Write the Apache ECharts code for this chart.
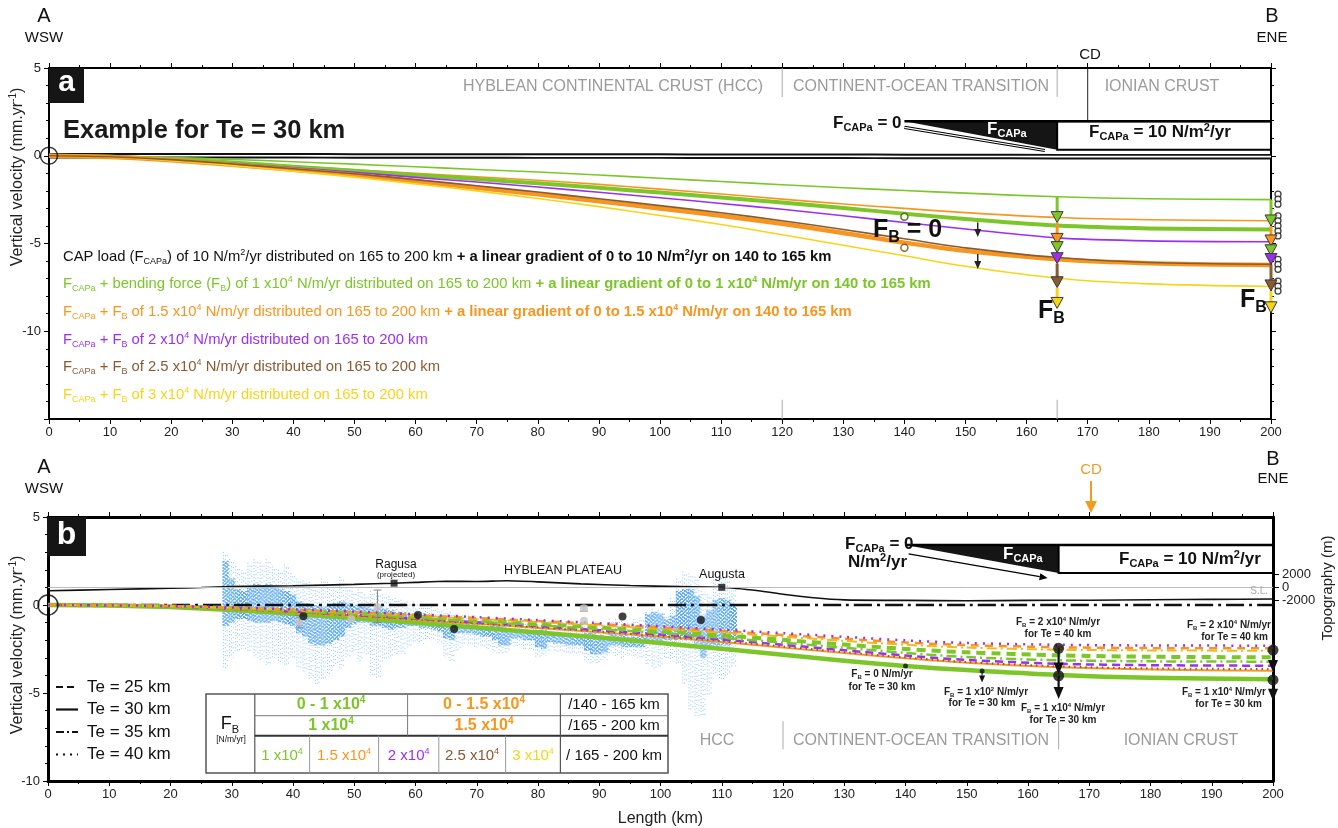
<!DOCTYPE html>
<html><head><meta charset="utf-8">
<script src="https://cdn.jsdelivr.net/npm/echarts@6/dist/echarts.min.js"></script>
<style>html,body{margin:0;padding:0;background:#fff}#c{width:1338px;height:828px}</style>
</head><body><div id="c"></div>
<script>
// ---------------- DATA ----------------
const xKm = [0,10,20,30,40,50,60,70,80,90,100,110,120,130,140,150,165,180,200];
// Panel a (Te = 30 km)
const aCapOnly     = [0,0,0,0,0,-0.01,-0.01,-0.01,-0.02,-0.02,-0.02,-0.03,-0.03,-0.03,-0.04,-0.04,-0.05,-0.05,-0.05];
const aGreen1e4    = [0,-0.03,-0.1,-0.21,-0.34,-0.48,-0.63,-0.78,-0.93,-1.1,-1.28,-1.47,-1.65,-1.82,-1.98,-2.13,-2.34,-2.45,-2.5];
const aOrange15e4  = [0,-0.05,-0.17,-0.36,-0.58,-0.8,-1.0,-1.2,-1.4,-1.63,-1.9,-2.18,-2.47,-2.75,-3.0,-3.24,-3.52,-3.65,-3.7];
const aGreenGrad   = [0,-0.05,-0.19,-0.39,-0.62,-0.86,-1.1,-1.33,-1.57,-1.83,-2.1,-2.38,-2.67,-2.98,-3.3,-3.6,-3.98,-4.14,-4.2];
const aPurple2e4   = [0,-0.06,-0.21,-0.43,-0.68,-0.95,-1.23,-1.5,-1.78,-2.08,-2.39,-2.72,-3.05,-3.42,-3.8,-4.17,-4.68,-4.85,-4.9];
const aOrangeGrad  = [0,-0.07,-0.25,-0.52,-0.8,-1.1,-1.45,-1.82,-2.2,-2.6,-3.0,-3.42,-3.88,-4.4,-4.95,-5.42,-5.9,-6.12,-6.22];
const aBrown25e4   = [0,-0.06,-0.22,-0.47,-0.74,-1.03,-1.36,-1.71,-2.07,-2.45,-2.84,-3.25,-3.7,-4.2,-4.73,-5.25,-5.8,-6.08,-6.18];
const aYellow3e4   = [0,-0.08,-0.28,-0.56,-0.88,-1.22,-1.6,-2.0,-2.44,-2.9,-3.4,-3.92,-4.5,-5.1,-5.7,-6.3,-6.98,-7.3,-7.45];
const aFb0Green = [[140,-3.47]];
const aFb0Orange = [[140,-5.24]];
const aSmallArrows = [[152,-3.8,-4.63],[152,-5.6,-6.46]];
// force arrows: [km, from, to, model]
const aForceArrows = [
  [165,-2.34,-3.81,'g'],[165,-3.81,-5.05,'o'],[165,-5.05,-5.52,'g'],[165,-5.52,-6.15,'p'],[165,-6.15,-7.52,'b'],[165,-7.52,-8.7,'y'],
  [200,-2.5,-4.0,'g'],[200,-4.0,-5.14,'o'],[200,-5.14,-5.7,'g'],[200,-5.7,-6.2,'p'],[200,-6.2,-7.7,'b'],[200,-7.7,-8.95,'y']
];
const aEndCircles = [-2.19,-2.47,-2.76,-3.43,-3.71,-4.0,-4.29,-4.57,-5.9,-6.19,-6.47,-7.14,-7.43,-7.71];

// Panel b
const bCapOnly  = [0,0,0,0,0,0,0,0,0,0,0,0,0,0,0,0,0,0,0];
const bGreen30  = [0,-0.03,-0.12,-0.28,-0.5,-0.75,-1.01,-1.28,-1.56,-1.85,-2.16,-2.49,-2.83,-3.17,-3.47,-3.7,-3.98,-4.14,-4.22];
const bOrange30 = [0,-0.03,-0.1,-0.24,-0.42,-0.63,-0.85,-1.07,-1.3,-1.55,-1.81,-2.1,-2.41,-2.73,-3.03,-3.28,-3.53,-3.67,-3.73];
const bBrown40  = [0,-0.03,-0.1,-0.23,-0.4,-0.6,-0.82,-1.04,-1.27,-1.51,-1.77,-2.05,-2.36,-2.68,-2.98,-3.24,-3.49,-3.6,-3.64];
const bPurple25 = [0,-0.03,-0.09,-0.21,-0.37,-0.56,-0.77,-0.98,-1.2,-1.43,-1.68,-1.96,-2.26,-2.57,-2.87,-3.12,-3.34,-3.42,-3.45];
const bGreen35  = [0,-0.02,-0.09,-0.2,-0.35,-0.53,-0.73,-0.94,-1.15,-1.37,-1.6,-1.86,-2.14,-2.43,-2.72,-2.96,-3.14,-3.2,-3.22];
const bGreen25  = [0,-0.02,-0.08,-0.18,-0.32,-0.48,-0.67,-0.87,-1.07,-1.27,-1.48,-1.72,-1.98,-2.25,-2.5,-2.69,-2.86,-2.94,-2.97];
const bYellow35 = [0,-0.02,-0.07,-0.16,-0.29,-0.44,-0.61,-0.79,-0.97,-1.16,-1.36,-1.57,-1.8,-2.04,-2.26,-2.42,-2.54,-2.58,-2.6];
const bOrange25 = [0,-0.02,-0.07,-0.15,-0.27,-0.41,-0.57,-0.74,-0.91,-1.09,-1.28,-1.48,-1.7,-1.92,-2.13,-2.28,-2.4,-2.45,-2.46];
const bPurple40 = [0,-0.02,-0.06,-0.14,-0.25,-0.38,-0.53,-0.69,-0.86,-1.03,-1.21,-1.4,-1.6,-1.81,-2.01,-2.16,-2.26,-2.3,-2.31];
// topography (m)
const topoKm = [0,10,20,25,30,40,50,56.5,60,65,70,75,80,87,95,103,110,116,120,125,130,140,150,160,170,180,190,200];
const topoM  = [-510,-320,-110,0,160,270,480,670,800,960,930,1040,880,560,320,130,30,-510,-1040,-1600,-1920,-2000,-2050,-2000,-1970,-1890,-1840,-1790];
const towns = [[56.5,670,'Ragusa'],[110,30,'Augusta']];
// InSAR velocity cloud: [km, sparseLow, sparseHigh, denseLow, denseHigh]
const insar = [
[29,-3.6,3.0,-1.2,2.5],[30,-3.0,2.6,-1.0,1.5],[31,-2.6,2.2,-0.8,0.9],[32,-2.5,2.0,-0.8,0.8],[33,-2.6,2.4,-0.9,1.0],
[34,-3.0,2.6,-1.0,1.2],[35,-3.2,2.4,-1.0,1.1],[36,-3.4,2.6,-1.0,1.2],[37,-3.0,2.2,-0.9,1.0],[38,-3.3,2.0,-1.0,0.9],
[39,-3.4,2.3,-1.1,0.8],[40,-3.0,1.8,-1.2,0.6],[41,-3.6,1.5,-1.6,0.2],[42,-3.8,1.4,-1.8,0.1],[43,-4.2,1.3,-2.2,0.0],
[44,-4.5,1.2,-2.3,0.0],[45,-4.2,1.5,-2.3,-0.1],[46,-4.0,1.3,-2.2,0.0],[47,-3.5,1.2,-2.0,0.1],[48,-3.6,1.6,-1.8,0.2],
[49,-3.0,1.0,-1.3,0.1],[50,-2.8,0.8,-1.1,0.0],[51,-3.2,0.9,-1.0,0.0],[52,-2.8,0.6,-1.0,-0.1],[53,-4.0,0.8,-1.2,-0.2],
[54,-4.2,0.7,-1.2,-0.1],[55,-3.2,0.6,-1.3,-0.2],[56,-3.0,0.5,-1.4,-0.3],[57,-2.8,0.4,-1.3,-0.4],[58,-2.8,0.3,-1.3,-0.4],
[59,-2.4,0.2,-1.2,-0.5],[60,-2.2,0.2,-1.2,-0.6],[61,-2.2,0.0,-1.3,-0.6],[62,-2.0,0.0,-1.3,-0.7],[63,-2.0,-0.1,-1.4,-0.8],
[64,-2.2,-0.2,-1.5,-0.8],[65,-3.0,-0.3,-1.9,-0.9],[66,-3.3,-0.4,-2.0,-0.9],[67,-2.6,-0.5,-1.6,-1.0],[68,-2.2,-0.6,-1.6,-1.1],
[69,-2.3,-0.6,-1.6,-1.1],[70,-2.4,-0.6,-1.7,-1.1],[71,-2.4,-0.7,-1.8,-1.2],[72,-2.5,-0.7,-1.8,-1.2],[73,-2.7,-0.8,-2.0,-1.2],
[74,-2.8,-0.8,-2.3,-1.2],[75,-2.7,-0.9,-2.3,-1.3],[76,-2.3,-0.8,-1.9,-1.4],[77,-2.4,-0.9,-1.9,-1.5],[78,-2.5,-0.9,-2.0,-1.5],
[79,-2.6,-0.9,-2.0,-1.5],[80,-3.0,-1.0,-2.4,-1.4],[81,-2.9,-1.0,-2.5,-1.4],[82,-2.6,-1.0,-2.1,-1.6],[83,-2.7,-1.0,-2.2,-1.6],
[84,-2.7,-1.0,-2.2,-1.7],[85,-2.8,-1.1,-2.3,-1.7],[86,-2.8,-1.1,-2.3,-1.7],[87,-2.8,-1.1,-2.3,-1.8],[88,-3.2,-1.2,-2.6,-1.6],
[89,-3.3,-1.2,-2.8,-1.6],[90,-3.3,-1.2,-2.8,-1.7],[91,-3.1,-1.2,-2.7,-1.8],[92,-2.8,-0.8,-2.3,-1.6],[93,-2.9,-0.8,-2.3,-1.7],
[94,-3.0,-0.9,-2.4,-1.7],[95,-2.9,-1.0,-2.4,-1.8],[96,-3.0,-0.8,-2.4,-1.8],[97,-3.1,-0.7,-2.4,-1.7],[98,-3.4,-0.4,-2.2,-0.5],
[99,-3.6,-0.2,-2.2,-0.4],[100,-3.5,-0.3,-2.1,-0.5],[101,-3.0,-0.5,-2.0,-0.8],[102,-3.2,0.4,-2.0,-0.6],[103,-3.4,1.5,-2.0,0.8],
[104,-4.5,1.9,-2.0,0.9],[105,-6.0,1.8,-2.0,0.9],[106,-6.3,1.6,-2.2,0.5],[107,-6.3,0.8,-3.0,-0.6],[108,-5.2,0.6,-2.5,-0.3],
[109,-4.0,1.6,-2.3,0.3],[110,-4.2,1.7,-2.3,0.4],[111,-4.0,1.5,-2.3,0.3],[112,-3.5,1.0,-2.0,0.0]
];
const gpsBlack = [[41.7,-0.64],[60.4,-0.57],[66.3,-1.36],[93.8,-0.66],[106.6,-0.85]];
const gpsGrey  = [[41,-0.95],[49.5,-0.8],[53.8,-0.13],[87.5,-0.19],[87.5,-0.89]];
const gpsErr   = [[41,-1.3,-0.6],[53.8,-1.0,0.85],[87.5,-0.35,-0.05]];
const bArrows  = [[165,-2.46,-3.95],[165,-4.02,-5.34],[200,-2.56,-3.8],[200,-4.26,-5.44],[152.5,-3.75,-4.4]];
const bDots    = [[165,-2.46],[165,-4.02],[200,-2.56],[200,-4.26]];
const bSmallDots = [[140,-3.47],[152.5,-3.75]];

// ---------------- STYLE ----------------
const FONT = "'Liberation Sans', Arial, Helvetica, sans-serif";
const COL = {g:'#7cc62a', o:'#f7961e', p:'#9d2ff0', b:'#8a5a32', y:'#f8d418', k:'#111', blue:'#3f9bec', grey:'#9b9b9b'};

function richSet(size, color, weight) {
  const base = {fontFamily: FONT, fill: color, fontSize: size, fontWeight: weight || 'normal'};
  const sm = Math.round(size * 0.62);
  return {
    s:  Object.assign({}, base, {fontSize: sm, padding: [Math.round(size*0.6),0,0,0]}),
    p:  Object.assign({}, base, {fontSize: sm, padding: [0,0,Math.round(size*0.55),0]}),
    b:  Object.assign({}, base, {fontWeight: 'bold'}),
    bs: Object.assign({}, base, {fontWeight: 'bold', fontSize: sm, padding: [Math.round(size*0.6),0,0,0]}),
    bp: Object.assign({}, base, {fontWeight: 'bold', fontSize: sm, padding: [0,0,Math.round(size*0.55),0]})
  };
}
function txt(x, y, text, size, color, opt) {
  opt = opt || {};
  return {type:'text', x: x, y: y, rotation: opt.rot || 0, z: 100, silent: true,
    style: {text: text, fill: color, fontSize: size, fontFamily: FONT, fontWeight: opt.weight || 'normal',
      align: opt.align || 'left', verticalAlign: opt.valign || 'middle', rich: richSet(size, color, opt.weight)}};
}
function gline(x1,y1,x2,y2,color,w,dash) {
  return {type:'line', z: 90, silent:true, shape:{x1,y1,x2,y2}, style:{stroke:color, lineWidth:w, lineDash: dash || null}};
}
function grect(x,y,w,h,fill,stroke,lw) {
  return {type:'rect', z: 89, silent:true, shape:{x,y,width:w,height:h}, style:{fill:fill, stroke:stroke||null, lineWidth:lw||0}};
}

function pairs(data) { return xKm.map((x,i)=>[x, data[i]]); }
function modelLine(name, data, panel, color, width, type, z) {
  return {type:'line', name, data: pairs(data), xAxisIndex: panel*2, yAxisIndex: panel*2,
    symbol:'none', showSymbol:false, smooth:0.3, silent:true, z: z || 4,
    lineStyle:{color, width, type: type || 'solid', cap:'butt', join:'round'}};
}

function axisX(grid, pos, showLabel, lw, name) {
  return {gridIndex: grid, type:'value', min:0, max:200, interval:10, position: pos,
    name: name || '', nameLocation:'middle', nameGap: 30,
    nameTextStyle:{fontSize:16, color:'#222', fontFamily: FONT},
    axisLine:{onZero:false, lineStyle:{color:'#000', width: lw}},
    axisTick:{show:true, length:5, lineStyle:{color:'#000', width:1}},
    minorTick:{show:true, splitNumber:2, length:3, lineStyle:{color:'#000', width:1}},
    axisLabel:{show: showLabel, fontSize:13, color:'#222', fontFamily: FONT, margin:7},
    splitLine:{show:false}};
}
function axisY(grid, pos, min, max, showLabel, lw) {
  return {gridIndex: grid, type:'value', min, max, interval:5, position: pos,
    axisLine:{onZero:false, lineStyle:{color:'#000', width: lw}},
    axisTick:{show:true, length:5, lineStyle:{color:'#000', width:1}},
    minorTick:{show:true, splitNumber:5, length:3, lineStyle:{color:'#000', width:1}},
    axisLabel:{show: showLabel, fontSize:13, color:'#222', fontFamily: FONT, margin:8,
      formatter: v => (v === min && min === -15) ? '' : String(v)},
    splitLine:{show:false}};
}

// ---------------- CUSTOM RENDERERS ----------------
function arrowShape(p0, p1, color, lw, hw, hh, outline) {
  return [
    {type:'line', shape:{x1:p0[0], y1:p0[1], x2:p1[0], y2:p1[1]-hh+1}, style:{stroke:color, lineWidth:lw}},
    {type:'polygon', shape:{points:[[p1[0]-hw,p1[1]-hh],[p1[0]+hw,p1[1]-hh],[p1[0],p1[1]]]},
      style:{fill:color, stroke: outline || color, lineWidth: outline ? 1 : 0}}
  ];
}
const forceArrowSeries = {
  type:'custom', xAxisIndex:0, yAxisIndex:0, data: aForceArrows.map(d=>[d[0],d[1],d[2]]), z: 8, silent:true, clip:false,
  renderItem: function(params, api) {
    const d = aForceArrows[params.dataIndex];
    const p0 = api.coord([d[0], d[1]]), p1 = api.coord([d[0], d[2]]);
    return {type:'group', children: arrowShape(p0, p1, COL[d[3]], 3, 6, 11, '#3a3a3a')};
  }
};
const smallArrowSeries = {
  type:'custom', xAxisIndex:0, yAxisIndex:0, data: aSmallArrows, z: 8, silent:true,
  renderItem: function(params, api) {
    const p0 = api.coord([api.value(0), api.value(1)]), p1 = api.coord([api.value(0), api.value(2)]);
    return {type:'group', children: arrowShape(p0, p1, '#222', 1.5, 3.5, 8)};
  }
};
const loadASeries = {
  type:'custom', xAxisIndex:0, yAxisIndex:0, data:[[0,0]], z: 9, silent:true, clip:false,
  renderItem: function(params, api) {
    const c = (x,y)=>api.coord([x,y]);
    const top = 1.96, bot = 0.34;
    const a0 = c(140,1.62), a1 = c(163,0.3);
    return {type:'group', children:[
      {type:'line', shape:{x1:c(120,5)[0], y1:c(120,5)[1], x2:c(120,3.35)[0], y2:c(120,3.35)[1]}, style:{stroke:'#aaa', lineWidth:1}},
      {type:'line', shape:{x1:c(165,5)[0], y1:c(165,5)[1], x2:c(165,3.35)[0], y2:c(165,3.35)[1]}, style:{stroke:'#aaa', lineWidth:1}},
      {type:'line', shape:{x1:c(120,-13.9)[0], y1:c(120,-13.9)[1], x2:c(120,-15)[0], y2:c(120,-15)[1]}, style:{stroke:'#aaa', lineWidth:1}},
      {type:'line', shape:{x1:c(165,-13.9)[0], y1:c(165,-13.9)[1], x2:c(165,-15)[0], y2:c(165,-15)[1]}, style:{stroke:'#aaa', lineWidth:1}},
      {type:'line', shape:{x1:c(170,5)[0], y1:c(170,5)[1], x2:c(170,top)[0], y2:c(170,top)[1]}, style:{stroke:'#222', lineWidth:1}},
      {type:'polygon', shape:{points:[c(140,top), c(165,top), c(165,bot)]}, style:{fill:'#151515'}},
      {type:'rect', shape:{x:c(165,top)[0], y:c(165,top)[1], width:c(200,bot)[0]-c(165,top)[0], height:c(200,bot)[1]-c(165,top)[1]},
        style:{fill:'#fff', stroke:'#000', lineWidth:2}},
      {type:'line', shape:{x1:c(140,top)[0], y1:c(140,top)[1], x2:c(200,top)[0], y2:c(200,top)[1]}, style:{stroke:'#000', lineWidth:2.5}},
      {type:'line', shape:{x1:a0[0], y1:a0[1], x2:a1[0], y2:a1[1]}, style:{stroke:'#000', lineWidth:3.2}},
      {type:'line', shape:{x1:a0[0], y1:a0[1], x2:a1[0], y2:a1[1]}, style:{stroke:'#fff', lineWidth:1.2}}
    ]};
  }
};
const loadBSeries = {
  type:'custom', xAxisIndex:2, yAxisIndex:2, data:[[0,0]], z: 9, silent:true, clip:false,
  renderItem: function(params, api) {
    const c = (x,y)=>api.coord([x,y]);
    const top = 3.41, bot = 1.82;
    const a0 = c(140.5,2.9), a1 = c(163.2,1.53);
    const ang = Math.atan2(a1[1]-a0[1], a1[0]-a0[0]);
    const hl = 8, hw = 3.5;
    const hx = a1[0]-hl*Math.cos(ang), hy = a1[1]-hl*Math.sin(ang);
    return {type:'group', children:[
      {type:'line', shape:{x1:c(120,-6.6)[0], y1:c(120,-6.6)[1], x2:c(120,-8.2)[0], y2:c(120,-8.2)[1]}, style:{stroke:'#aaa', lineWidth:1}},
      {type:'line', shape:{x1:c(165,-6.6)[0], y1:c(165,-6.6)[1], x2:c(165,-8.2)[0], y2:c(165,-8.2)[1]}, style:{stroke:'#aaa', lineWidth:1}},
      {type:'polygon', shape:{points:[c(140,top), c(165,top), c(165,bot)]}, style:{fill:'#151515'}},
      {type:'rect', shape:{x:c(165,top)[0], y:c(165,top)[1], width:c(200,bot)[0]-c(165,top)[0], height:c(200,bot)[1]-c(165,top)[1]},
        style:{fill:'#fff', stroke:'#000', lineWidth:2}},
      {type:'line', shape:{x1:c(140,top)[0], y1:c(140,top)[1], x2:c(200,top)[0], y2:c(200,top)[1]}, style:{stroke:'#000', lineWidth:2.5}},
      {type:'line', shape:{x1:a0[0], y1:a0[1], x2:hx, y2:hy}, style:{stroke:'#000', lineWidth:1.2}},
      {type:'polygon', shape:{points:[[a1[0],a1[1]],[hx-hw*Math.sin(ang),hy+hw*Math.cos(ang)],[hx+hw*Math.sin(ang),hy-hw*Math.cos(ang)]]}, style:{fill:'#000'}}
    ]};
  }
};
const insarSeries = {
  type:'custom', xAxisIndex:2, yAxisIndex:2, data: insar, z: 2, silent:true,
  renderItem: function(params, api) {
    const x = api.value(0);
    const children = [];
    [-0.36, -0.05, 0.27].forEach(function(dx, k){
      const p0 = api.coord([x+dx, api.value(2)]), p1 = api.coord([x+dx, api.value(1)]);
      children.push({type:'line', shape:{x1:p0[0], y1:p0[1], x2:p1[0], y2:p1[1]},
        style:{stroke:'rgba(66,156,240,0.6)', lineWidth:1, lineDash:[1, 2 + k], lineDashOffset: k}});
    });
    [-0.42, -0.25, -0.08, 0.09, 0.26, 0.42].forEach(function(dx, k){
      const p0 = api.coord([x+dx, api.value(4)]), p1 = api.coord([x+dx, api.value(3)]);
      children.push({type:'line', shape:{x1:p0[0], y1:p0[1], x2:p1[0], y2:p1[1]},
        style:{stroke:'rgba(58,150,240,0.85)', lineWidth:1, lineDash:[2, 1 + (k % 2)], lineDashOffset: k}});
    });
    return {type:'group', children};
  }
};
const gpsErrSeries = {
  type:'custom', xAxisIndex:2, yAxisIndex:2, data: gpsErr, z: 6, silent:true,
  renderItem: function(params, api) {
    const p0 = api.coord([api.value(0), api.value(1)]), p1 = api.coord([api.value(0), api.value(2)]);
    return {type:'group', children:[
      {type:'line', shape:{x1:p0[0], y1:p0[1], x2:p1[0], y2:p1[1]}, style:{stroke:'#888', lineWidth:1}},
      {type:'line', shape:{x1:p0[0]-4, y1:p0[1], x2:p0[0]+4, y2:p0[1]}, style:{stroke:'#888', lineWidth:1}},
      {type:'line', shape:{x1:p1[0]-4, y1:p1[1], x2:p1[0]+4, y2:p1[1]}, style:{stroke:'#888', lineWidth:1}}
    ]};
  }
};
const bArrowSeries = {
  type:'custom', xAxisIndex:2, yAxisIndex:2, data: bArrows, z: 8, silent:true, clip:false,
  renderItem: function(params, api) {
    const p0 = api.coord([api.value(0), api.value(1)]), p1 = api.coord([api.value(0), api.value(2)]);
    const small = params.dataIndex === 4;
    return {type:'group', children: arrowShape(p0, p1, '#111', small ? 1 : 2.2, small ? 3 : 5, small ? 7 : 12)};
  }
};

// ---------------- GRAPHICS (texts / legend / table) ----------------
const g = [];
g.push(txt(44,16,'A',20,'#111',{align:'center'}), txt(44,38,'WSW',15,'#111',{align:'center'}));
g.push(txt(1272,16,'B',20,'#111',{align:'center'}), txt(1272,38,'ENE',15,'#111',{align:'center'}));
g.push(txt(1090,55,'CD',15,'#111',{align:'center'}));
g.push(txt(44,467,'A',20,'#111',{align:'center'}), txt(44,489,'WSW',15,'#111',{align:'center'}));
g.push(txt(1273,459,'B',20,'#111',{align:'center'}), txt(1273,479,'ENE',15,'#111',{align:'center'}));
g.push(txt(1091,470,'CD',15,'#f39c1e',{align:'center'}));
g.push(gline(1091,481,1091,509,'#f39c1e',2));
g.push({type:'polygon', z:90, silent:true, shape:{points:[[1085,501],[1097,501],[1091,513]]}, style:{fill:'#f39c1e'}});
g.push(grect(49,68,35,35,'#151515'), txt(66.5,83,'a',30,'#fff',{align:'center',weight:'bold'}));
g.push(grect(47,517,39,39,'#151515'), txt(66.5,535,'b',32,'#fff',{align:'center',weight:'bold'}));
g.push(txt(18,177,'Vertical velocity (mm.yr{p|-1})',16,'#222',{align:'center',rot:Math.PI/2}));
g.push(txt(18,645,'Vertical velocity (mm.yr{p|-1})',16,'#222',{align:'center',rot:Math.PI/2}));
g.push(txt(1328,588,'Topography (m)',15,'#222',{align:'center',rot:Math.PI/2}));
g.push(txt(63,131,'Example for Te = 30 km',25.5,'#1a1a1a',{weight:'bold'}));
g.push(txt(613,87,'HYBLEAN CONTINENTAL CRUST (HCC)',16,COL.grey,{align:'center'}));
g.push(txt(921,87,'CONTINENT-OCEAN TRANSITION',16,COL.grey,{align:'center'}));
g.push(txt(1162,87,'IONIAN CRUST',16,COL.grey,{align:'center'}));
g.push(txt(833,123,'F{bs|CAPa} = 0',17,'#111',{weight:'bold'}));
g.push(txt(987,129,'F{bs|CAPa}',17,'#fff',{weight:'bold'}));
g.push(txt(1089,132,'F{bs|CAPa} = 10 N/m{bp|2}/yr',17,'#111',{weight:'bold'}));
g.push(txt(873,230,'F{bs|B} = 0',25,'#111',{weight:'bold'}));
g.push(txt(1038,311,'F{bs|B}',25,'#111',{weight:'bold'}));
g.push(txt(1240,300,'F{bs|B}',25,'#111',{weight:'bold'}));
const LS = 14.8;
g.push(txt(63,257,'CAP load (F{s|CAPa}) of 10 N/m{p|2}/yr distributed on 165 to 200 km {b|+ a linear gradient of 0 to 10 N/m}{bp|2}{b|/yr on 140 to 165 km}',LS,'#111'));
g.push(txt(63,284,'F{s|CAPa} + bending force (F{s|B}) of 1 x10{p|4} N/m/yr distributed on 165 to 200 km {b|+ a linear gradient of 0 to 1 x10}{bp|4}{b| N/m/yr on 140 to 165 km}',LS,COL.g));
g.push(txt(63,312,'F{s|CAPa} + F{s|B} of 1.5 x10{p|4} N/m/yr distributed on 165 to 200 km {b|+ a linear gradient of 0 to 1.5 x10}{bp|4}{b| N/m/yr on 140 to 165 km}',LS,COL.o));
g.push(txt(63,340,'F{s|CAPa} + F{s|B} of 2 x10{p|4} N/m/yr distributed on 165 to 200 km',LS,COL.p));
g.push(txt(63,367,'F{s|CAPa} + F{s|B} of 2.5 x10{p|4} N/m/yr distributed on 165 to 200 km',LS,COL.b));
g.push(txt(63,395,'F{s|CAPa} + F{s|B} of 3 x10{p|4} N/m/yr distributed on 165 to 200 km',LS,COL.y));
g.push(txt(396,565,'Ragusa',12,'#111',{align:'center'}), txt(396,575,'(projected)',8,'#111',{align:'center'}));
g.push(txt(563,571,'HYBLEAN PLATEAU',12.5,'#111',{align:'center'}));
g.push(txt(722,575,'Augusta',12.5,'#111',{align:'center'}));
g.push(txt(1268,591,'S.L.',10,'#aaa',{align:'right'}));
g.push(txt(845,544,'F{bs|CAPa} = 0',17,'#111',{weight:'bold'}));
g.push(txt(848,562,'N/m{bp|2}/yr',17,'#111',{weight:'bold'}));
g.push(txt(1003,554,'F{bs|CAPa}',17,'#fff',{weight:'bold'}));
g.push(txt(1119,559,'F{bs|CAPa} = 10 N/m{bp|2}/yr',17,'#111',{weight:'bold'}));
const AS = 10;
g.push(txt(1058,622,'F{bs|B} = 2 x10{bp|4} N/m/yr',AS,'#222',{align:'center',weight:'bold'}), txt(1058,634,'for Te = 40 km',AS,'#222',{align:'center',weight:'bold'}));
g.push(txt(1271,625,'F{bs|B} = 2 x10{bp|4} N/m/yr',AS,'#222',{align:'right',weight:'bold'}), txt(1268,637,'for Te = 40 km',AS,'#222',{align:'right',weight:'bold'}));
g.push(txt(1063,708,'F{bs|B} = 1 x10{bp|4} N/m/yr',AS,'#222',{align:'center',weight:'bold'}), txt(1063,720,'for Te = 30 km',AS,'#222',{align:'center',weight:'bold'}));
g.push(txt(1266,692,'F{bs|B} = 1 x10{bp|4} N/m/yr',AS,'#222',{align:'right',weight:'bold'}), txt(1262,704,'for Te = 30 km',AS,'#222',{align:'right',weight:'bold'}));
g.push(txt(882,674,'F{bs|B} = 0 N/m/yr',AS,'#222',{align:'center',weight:'bold'}), txt(882,687,'for Te = 30 km',AS,'#222',{align:'center',weight:'bold'}));
g.push(txt(986,692,'F{bs|B} = 1 x10{bp|2} N/m/yr',AS,'#222',{align:'center',weight:'bold'}), txt(982,703,'for Te = 30 km',AS,'#222',{align:'center',weight:'bold'}));
g.push(txt(717,741,'HCC',16,COL.grey,{align:'center'}));
g.push(txt(921,741,'CONTINENT-OCEAN TRANSITION',16,COL.grey,{align:'center'}));
g.push(txt(1181,741,'IONIAN CRUST',16,COL.grey,{align:'center'}));
const teY = [687,709.5,732,754.5];
g.push(gline(56,teY[0],78,teY[0],'#111',2.2,[7,4]));
g.push(gline(56,teY[1],78,teY[1],'#111',2.2));
g.push(gline(56,teY[2],78,teY[2],'#111',2.2,[8,3,2,3]));
g.push(gline(56,teY[3],78,teY[3],'#111',2.2,[2,5]));
['Te = 25 km','Te = 30 km','Te = 35 km','Te = 40 km'].forEach((t,i)=>g.push(txt(87,teY[i],t,17,'#111')));
g.push(grect(206,694,462,79,'#fff','#555',1.5));
g.push(gline(254.8,694,254.8,773,'#555',1.2));
g.push(gline(254.8,715.7,668,715.7,'#777',1));
g.push(gline(254.8,735.7,668,735.7,'#333',2));
g.push(gline(407.6,694,407.6,735.7,'#777',1));
g.push(gline(560.4,694,560.4,773,'#555',1.2));
[309.6,378.6,438.8,505.6].forEach(x=>g.push(gline(x,735.7,x,773,'#999',1)));
g.push(txt(230,724,'F{s|B}',18,'#111',{align:'center'}), txt(231,740,'[N/m/yr]',8.5,'#111',{align:'center'}));
g.push(txt(331,705,'0 - 1 x10{bp|4}',16,COL.g,{align:'center',weight:'bold'}));
g.push(txt(484,705,'0 - 1.5 x10{bp|4}',16,COL.o,{align:'center',weight:'bold'}));
g.push(txt(614,705,'/140 - 165 km',15,'#111',{align:'center'}));
g.push(txt(331,726,'1 x10{bp|4}',16,COL.g,{align:'center',weight:'bold'}));
g.push(txt(484,726,'1.5 x10{bp|4}',16,COL.o,{align:'center',weight:'bold'}));
g.push(txt(614,726,'/165 - 200 km',15,'#111',{align:'center'}));
g.push(txt(282,756,'1 x10{p|4}',15,COL.g,{align:'center'}));
g.push(txt(344,756,'1.5 x10{p|4}',15,COL.o,{align:'center'}));
g.push(txt(408.7,756,'2 x10{p|4}',15,COL.p,{align:'center'}));
g.push(txt(472,756,'2.5 x10{p|4}',15,COL.b,{align:'center'}));
g.push(txt(533,756,'3 x10{p|4}',15,COL.y,{align:'center'}));
g.push(txt(614,756,'/ 165 - 200 km',15,'#111',{align:'center'}));

// ---------------- OPTION ----------------
const option = {
  animation:false,
  backgroundColor:'#fff',
  grid:[
    {left:49, top:68, width:1222, height:351},
    {left:48, top:517, width:1225, height:265}
  ],
  xAxis:[
    axisX(0,'bottom',true,2),
    axisX(0,'top',false,2),
    axisX(1,'bottom',true,3,'Length (km)'),
    axisX(1,'top',false,3)
  ],
  yAxis:[
    axisY(0,'left',-15,5,true,2),
    axisY(0,'right',-15,5,false,2),
    axisY(1,'left',-10,5,true,3),
    {gridIndex:1, type:'value', position:'right', min:-30000, max:10931, interval:2000,
      axisLine:{onZero:false, lineStyle:{color:'#000', width:3}},
      axisTick:{show:true, length:6, customValues:[-2000,0,2000], lineStyle:{color:'#000'}},
      axisLabel:{show:true, fontSize:13, color:'#222', fontFamily:FONT, margin:9, customValues:[-2000,0,2000],
        formatter: v => (v===-2000||v===0||v===2000) ? String(v) : ''},
      splitLine:{show:false}}
  ],
  graphic: g,
  series:[
    modelLine('CAP load', aCapOnly, 0, '#111', 5.5, 'solid', 3),
    modelLine('CAP load inner', aCapOnly, 0, '#fff', 1.6, 'solid', 3),
    modelLine('FB 1e4', aGreen1e4, 0, COL.g, 1.6, 'solid', 4),
    modelLine('FB 1.5e4', aOrange15e4, 0, COL.o, 1.6, 'solid', 4),
    modelLine('FB 0-1e4 gradient', aGreenGrad, 0, COL.g, 4, 'solid', 4),
    modelLine('FB 2e4', aPurple2e4, 0, COL.p, 1.6, 'solid', 4),
    modelLine('FB 0-1.5e4 gradient', aOrangeGrad, 0, COL.o, 4.5, 'solid', 4),
    modelLine('FB 2.5e4', aBrown25e4, 0, COL.b, 1.6, 'solid', 5),
    modelLine('FB 3e4', aYellow3e4, 0, COL.y, 1.6, 'solid', 4),
    {type:'scatter', xAxisIndex:0, yAxisIndex:0, data:[[0,0]], symbol:'circle', symbolSize:17, clip:false, silent:true, z:7,
      itemStyle:{color:'rgba(0,0,0,0)', borderColor:'#000', borderWidth:1.5}},
    {type:'scatter', xAxisIndex:0, yAxisIndex:0, data:aFb0Green, symbol:'circle', symbolSize:7, silent:true, z:7,
      itemStyle:{color:'#fff', borderColor:'#2c5a00', borderWidth:1.5}},
    {type:'scatter', xAxisIndex:0, yAxisIndex:0, data:aFb0Orange, symbol:'circle', symbolSize:7, silent:true, z:7,
      itemStyle:{color:'#fff', borderColor:'#7a4500', borderWidth:1.5}},
    {type:'scatter', xAxisIndex:0, yAxisIndex:0, data:aEndCircles.map(v=>[200,v]), symbol:'circle', symbolSize:6, symbolOffset:[7,0],
      clip:false, silent:true, z:7, itemStyle:{color:'#fff', borderColor:'#111', borderWidth:1.3}},
    smallArrowSeries, forceArrowSeries, loadASeries,
    insarSeries,
    {type:'line', xAxisIndex:2, yAxisIndex:3, data: topoKm.map((x,i)=>[x, topoM[i]]), symbol:'none', smooth:0.2, silent:true, z:3,
      lineStyle:{color:'#111', width:1.6},
      markLine:{silent:true, symbol:'none', label:{show:false}, lineStyle:{color:'#bbb', width:1, type:'solid'}, data:[{yAxis:0}]}},
    {type:'scatter', xAxisIndex:2, yAxisIndex:3, data: towns.map(t=>[t[0],t[1]]), symbol:'rect', symbolSize:7, silent:true, z:6,
      itemStyle:{color:'#111'}},
    modelLine('CAP load b', bCapOnly, 1, '#111', 2.6, [18,5,3,5], 3),
    modelLine('Te30 1e4', bGreen30, 1, COL.g, 4.5, 'solid', 4),
    modelLine('Te30 1.5e4', bOrange30, 1, COL.o, 2, 'solid', 5),
    modelLine('Te40 2.5e4', bBrown40, 1, COL.b, 2, [1.5,4], 5),
    modelLine('Te25 2e4', bPurple25, 1, COL.p, 2.5, [8,5], 5),
    modelLine('Te35 1e4', bGreen35, 1, COL.g, 2.5, [10,4,2,4], 5),
    modelLine('Te25 1e4', bGreen25, 1, COL.g, 4, [9,6], 5),
    modelLine('Te35 3e4', bYellow35, 1, '#f2b81c', 2, [10,4,2,4], 5),
    modelLine('Te25 1.5e4', bOrange25, 1, COL.o, 2.5, [8,6], 5),
    modelLine('Te40 2e4', bPurple40, 1, COL.p, 2.5, [2,6], 5),
    {type:'scatter', xAxisIndex:2, yAxisIndex:2, data:[[0,0]], symbol:'circle', symbolSize:20, clip:false, silent:true, z:7,
      itemStyle:{color:'rgba(0,0,0,0)', borderColor:'#000', borderWidth:1.5}},
    gpsErrSeries,
    {type:'scatter', xAxisIndex:2, yAxisIndex:2, data:gpsGrey, symbol:'circle', symbolSize:8, silent:true, z:6, itemStyle:{color:'#c4c4c4'}},
    {type:'scatter', xAxisIndex:2, yAxisIndex:2, data:gpsBlack, symbol:'circle', symbolSize:8, silent:true, z:6, itemStyle:{color:'#111'}},
    bArrowSeries,
    {type:'scatter', xAxisIndex:2, yAxisIndex:2, data:bDots, symbol:'circle', symbolSize:11, clip:false, silent:true, z:9, itemStyle:{color:'#111'}},
    {type:'scatter', xAxisIndex:2, yAxisIndex:2, data:bSmallDots, symbol:'circle', symbolSize:5, silent:true, z:9, itemStyle:{color:'#111'}},
    loadBSeries
  ]
};
const chart = echarts.init(document.getElementById('c'), null, {renderer:'canvas'});
chart.setOption(option);
</script>
</body></html>
